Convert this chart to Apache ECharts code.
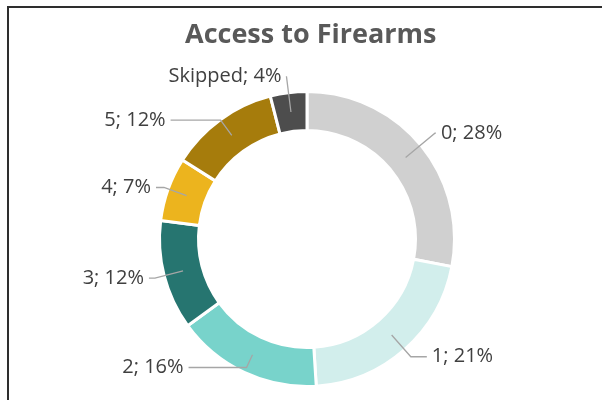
<!DOCTYPE html>
<html>
<head>
<meta charset="utf-8">
<script src="https://cdn.jsdelivr.net/npm/echarts@6/dist/echarts.min.js"></script>
<style>
  html, body { margin: 0; padding: 0; background: #fff; }
  #wrap { position: relative; width: 602px; height: 400px; overflow: hidden; }
  #chart { position: absolute; left: 0; top: 0; width: 602px; height: 400px; }
  #frame { position: absolute; left: 7px; top: 6px; width: 700px; height: 500px;
           border-left: 2px solid #2e2e2e; border-top: 2px solid #2e2e2e; }
</style>
</head>
<body>
<div id="wrap">
  <div id="chart"></div>
  <div id="frame"></div>
</div>
<script>
// Survey answers: number of ways respondents have access to firearms
const categories = ['0', '1', '2', '3', '4', '5', 'Skipped'];
const shares = [28, 21, 16, 12, 7, 12, 4];
const sliceColors = ['#d0d0d0', '#d2eeec', '#78d3cb', '#267570', '#ecb41e', '#a67c0c', '#4d4d4d'];
// leader line lengths [radial, horizontal] for each label
const leaderLengths = [[38, 1], [29, 16], [14, 58], [29, 6], [24, 8], [19, 50], [36, 0]];

const chart = echarts.init(document.getElementById('chart'), null, { renderer: 'canvas' });

const ringData = categories.map((c, i) => ({
  name: c, value: shares[i], itemStyle: { color: sliceColors[i] }
}));

const labelData = categories.map((c, i) => ({
  name: c, value: shares[i],
  labelLine: { length: leaderLengths[i][0], length2: leaderLengths[i][1] }
}));

const center = [307, 239];

chart.setOption({
  animation: false,
  title: {
    text: 'Access to Firearms',
    left: 180, top: 17,
    textStyle: { fontFamily: 'Open Sans', fontWeight: 'bold', fontSize: 27, color: '#595959' }
  },
  series: [
    {
      type: 'pie',
      z: 2,
      center: center,
      radius: [108.5, 147.5],
      startAngle: 90,
      clockwise: true,
      silent: true,
      avoidLabelOverlap: false,
      label: { show: false },
      labelLine: { show: false },
      itemStyle: { borderColor: '#ffffff', borderWidth: 3 },
      data: ringData
    },
    {
      // transparent twin of the ring, used only to anchor labels at mid-ring
      type: 'pie',
      z: 5,
      center: center,
      radius: [0, 128],
      startAngle: 90,
      clockwise: true,
      silent: true,
      avoidLabelOverlap: false,
      itemStyle: { color: 'rgba(0,0,0,0)' },
      label: {
        show: true,
        position: 'outside',
        formatter: p => p.name + '; ' + p.value + '%',
        fontFamily: 'Open Sans',
        fontSize: 20,
        color: '#404040'
      },
      labelLine: {
        show: true,
        lineStyle: { color: '#a6a6a6', width: 1.3 }
      },
      data: labelData
    }
  ]
});
</script>
</body>
</html>
